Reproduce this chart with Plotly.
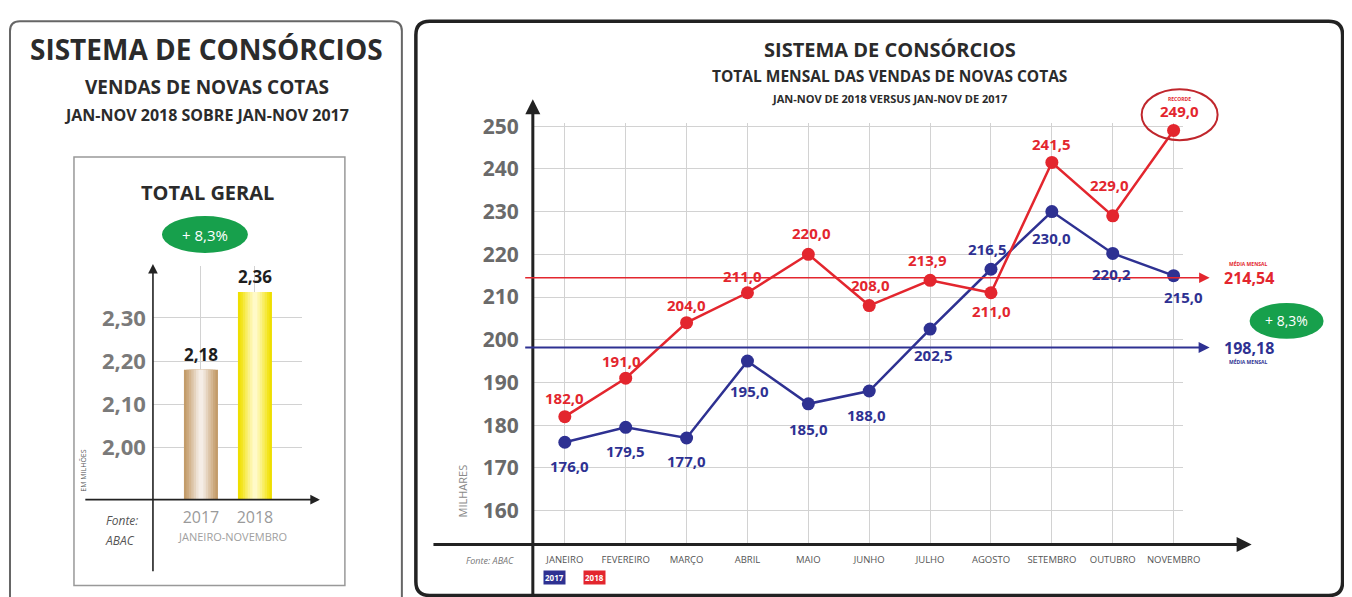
import plotly.graph_objects as go

# screen placement measured from earlier renders: the page shows the figure
# shifted/scaled a little, so positions below are given in window pixels
W, H = 1352, 590
SX, SY, OX, OY = 0.987, 0.981, 8, 18.7

# ---- dados ----
anos = ["2017", "2018"]
total_geral = [2.18, 2.36]
bar_ticks = [2.00, 2.10, 2.20, 2.30]

meses = ["JANEIRO", "FEVEREIRO", "MARÇO", "ABRIL", "MAIO", "JUNHO",
         "JULHO", "AGOSTO", "SETEMBRO", "OUTUBRO", "NOVEMBRO"]
vendas_2017 = [176.0, 179.5, 177.0, 195.0, 185.0, 188.0, 202.5, 216.5, 230.0, 220.2, 215.0]
vendas_2018 = [182.0, 191.0, 204.0, 211.0, 220.0, 208.0, 213.9, 211.0, 241.5, 229.0, 249.0]
media_2017 = 198.18
media_2018 = 214.54
variacao = "+ 8,3%"
y_ticks = [160, 170, 180, 190, 200, 210, 220, 230, 240, 250]

# label offsets (px) for the point values
off_2018 = [(0, 19), (-4, 17), (0, 18), (-5, 17), (3, 21), (1, 21), (-3, 20), (1, -18), (0, 18), (-3, 31), (6, 19)]
off_2017 = [(5, -24), (0, -24), (0, -23), (2, -30), (0, -25), (-3, -24), (3, -26), (-3, 20), (0, -26), (-1, -21), (10, -21)]

AZUL = "#2e3192"
VERM = "#e3262e"
VERDE = "#17a04c"
FONT = "Open Sans"


def fx(p):
    return (p - OX) / SX / W


def fy(p):
    return 1 - (p - OY) / SY / H


def br(v, d=1):
    return f"{v:.{d}f}".replace(".", ",")


def rounded(x0, y0, x1, y1, r):
    rx, ry = r / W, r / H
    X0, X1, Y0, Y1 = fx(x0), fx(x1), fy(y0), fy(y1)
    return (f"M {X0+rx},{Y0} L {X1-rx},{Y0} Q {X1},{Y0} {X1},{Y0-ry} "
            f"L {X1},{Y1+ry} Q {X1},{Y1} {X1-rx},{Y1} L {X0+rx},{Y1} "
            f"Q {X0},{Y1} {X0},{Y1+ry} L {X0},{Y0-ry} Q {X0},{Y0} {X0+rx},{Y0} Z")


fig = go.Figure()

# ---- left: total geral bars (layered for a soft gradient) ----
layers_w = [0.63, 0.54, 0.45, 0.36, 0.27, 0.18, 0.09]
tan = ["#c39c6a", "#cba87c", "#d4b691", "#dcc4a7", "#e5d3be", "#eee2d5", "#f5ede6"]
yel = ["#efdf00", "#f3e41c", "#f6e93f", "#f9ee63", "#fbf288", "#fdf6aa", "#fffac8"]
for w, c1, c2 in zip(layers_w, tan, yel):
    fig.add_trace(go.Bar(x=[0, 1], y=total_geral, width=w, marker=dict(color=[c1, c2], line=dict(width=0)),
                         xaxis="x", yaxis="y", hoverinfo="skip", showlegend=False))

# ---- right: monthly lines ----
xi = list(range(len(meses)))
fig.add_trace(go.Scatter(x=xi, y=vendas_2017, mode="lines+markers", xaxis="x2", yaxis="y2",
                         line=dict(color=AZUL, width=2.5), marker=dict(size=13, color=AZUL),
                         name="2017", showlegend=False))
fig.add_trace(go.Scatter(x=xi, y=vendas_2018, mode="lines+markers", xaxis="x2", yaxis="y2",
                         line=dict(color=VERM, width=2.5), marker=dict(size=13, color=VERM),
                         name="2018", showlegend=False))

ann = []


def txt(x, y, s, size, color="#2b2b2b", bold=True, **kw):
    d = dict(x=fx(x), y=fy(y), xref="paper", yref="paper", text=f"<b>{s}</b>" if bold else s,
             xanchor="center", yanchor="middle", showarrow=False,
             font=dict(family=FONT, size=size, color=color))
    d.update(kw)
    ann.append(d)


def arrow(xh, yh, xt, yt, color="#222", width=3, size=1.0):
    ann.append(dict(x=fx(xh), y=fy(yh), xref="paper", yref="paper", ax=(xt - xh) / SX, ay=(yt - yh) / SY,
                    axref="pixel", ayref="pixel", text="", showarrow=True, arrowhead=2,
                    arrowsize=size, arrowwidth=width, arrowcolor=color, standoff=0))


# left panel texts
txt(207, 48, "SISTEMA DE CONSÓRCIOS", 28)
txt(207, 86, "VENDAS DE NOVAS COTAS", 19)
txt(207, 114, "JAN-NOV 2018 SOBRE JAN-NOV 2017", 16)
txt(208, 191, "TOTAL GERAL", 20)
txt(205, 234, variacao, 15, color="white", bold=False)
for i, v in enumerate(total_geral):
    ann.append(dict(x=i, y=v, xref="x", yref="y", text=f"<b>{br(v, 2)}</b>", showarrow=False,
                    yanchor="bottom", yshift=2, font=dict(family=FONT, size=17, color="#1e1e1e")))
txt(233, 536, "JANEIRO-NOVEMBRO", 11, color="#a0a0a0", bold=False)
txt(122, 520, "<i>Fonte:</i>", 12, color="#555", bold=False)
txt(120, 540, "<i>ABAC</i>", 12, color="#555", bold=False)
txt(84, 470, "EM MILHÕES", 7, color="#555", bold=False, textangle=-90)
arrow(153, 263, 153, 566, width=1.6, size=1.2)
arrow(320, 499, 87, 499, width=1.6, size=1.2)

# right panel texts
txt(890, 48, "SISTEMA DE CONSÓRCIOS", 20)
txt(890, 75, "TOTAL MENSAL DAS VENDAS DE NOVAS COTAS", 15.5)
txt(890, 97, "JAN-NOV DE 2018 VERSUS JAN-NOV DE 2017", 11)
txt(463, 490, "MILHARES", 11, color="#8a8a8a", bold=False, textangle=-90)
txt(490, 560, "<i>Fonte: ABAC</i>", 9, color="#777", bold=False)
txt(555, 577, "2017", 8, color="white", bgcolor=AZUL, borderpad=1)
txt(595, 577, "2018", 8, color="white", bgcolor=VERM, borderpad=1)
arrow(533, 98, 533, 586, width=3, size=1.0)
arrow(1252, 544, 443, 544, width=3, size=1.0)

# mean lines
for m, c, w in [(media_2018, VERM, 1.5), (media_2017, AZUL, 2)]:
    ann.append(dict(x=fx(1210), y=m, xref="paper", yref="y2", ax=(533 - 1210) / SX, ay=0, axref="pixel",
                    ayref="pixel", text="", showarrow=True, arrowhead=2, arrowsize=1.4 if w < 2 else 1.1,
                    arrowwidth=w, arrowcolor=c, standoff=0))
ann.append(dict(x=fx(1222), y=media_2018, xref="paper", yref="y2", text=f"<b>{br(media_2018, 2)}</b>",
                showarrow=False, xanchor="left", font=dict(family=FONT, size=16, color=VERM)))
ann.append(dict(x=fx(1248), y=media_2018, xref="paper", yref="y2", yshift=14, text="<b>MÉDIA MENSAL</b>",
                showarrow=False, xanchor="center", font=dict(family=FONT, size=5, color=VERM)))
ann.append(dict(x=fx(1222), y=media_2017, xref="paper", yref="y2", text=f"<b>{br(media_2017, 2)}</b>",
                showarrow=False, xanchor="left", font=dict(family=FONT, size=16, color=AZUL)))
ann.append(dict(x=fx(1248), y=media_2017, xref="paper", yref="y2", yshift=-14, text="<b>MÉDIA MENSAL</b>",
                showarrow=False, xanchor="center", font=dict(family=FONT, size=5, color=AZUL)))
txt(1287, 320, variacao, 14, color="white", bold=False)

# point labels
for vals, offs, c in [(vendas_2017, off_2017, AZUL), (vendas_2018, off_2018, VERM)]:
    for i, (v, (dx, dy)) in enumerate(zip(vals, offs)):
        ann.append(dict(x=i, y=v, xref="x2", yref="y2", text=f"<b>{br(v)}</b>", showarrow=False,
                        xshift=dx, yshift=dy, font=dict(family=FONT, size=15, color=c)))
ann.append(dict(x=10, y=vendas_2018[10], xref="x2", yref="y2", text="<b>RECORDE</b>", showarrow=False,
                xshift=6, yshift=31, font=dict(family=FONT, size=5, color=VERM)))

shapes = [
    dict(type="path", path=rounded(10, 20, 402, 610, 10), xref="paper", yref="paper",
         line=dict(color="#666", width=2)),
    dict(type="rect", x0=fx(74), x1=fx(345), y0=fy(156), y1=fy(585), xref="paper", yref="paper",
         line=dict(color="#999", width=1.5)),
    dict(type="path", path=rounded(416, 20, 1343, 595, 14), xref="paper", yref="paper",
         line=dict(color="#222", width=3.5)),
    dict(type="circle", x0=fx(162), x1=fx(248), y0=fy(215), y1=fy(252), xref="paper", yref="paper",
         fillcolor=VERDE, line=dict(width=0), layer="below"),
    dict(type="circle", x0=fx(1250), x1=fx(1324), y0=fy(302), y1=fy(338), xref="paper", yref="paper",
         fillcolor=VERDE, line=dict(width=0), layer="below"),
    dict(type="circle", x0=fx(1142), x1=fx(1218), y0=fy(88), y1=fy(139), xref="paper", yref="paper",
         line=dict(color="#c0262c", width=2)),
]

grid = "#d2d2d2"
fig.update_layout(
    width=W, height=H, margin=dict(l=0, r=0, t=0, b=0),
    paper_bgcolor="white", plot_bgcolor="rgba(0,0,0,0)",
    separators=",.", barmode="overlay", showlegend=False,
    font=dict(family=FONT),
    xaxis=dict(domain=[fx(153), fx(302)], range=[-0.889, 1.87], tickvals=[0, 1], ticktext=anos,
               showgrid=True, gridcolor=grid, zeroline=False, showline=False, ticks="",
               tickfont=dict(family=FONT, size=16, color="#9a9a9a"), ticklabelstandoff=6, fixedrange=True),
    yaxis=dict(domain=[fy(499), fy(265)], range=[1.88, 2.42], tickvals=bar_ticks, tickformat=".2f",
               showgrid=True, gridcolor=grid, zeroline=False, showline=False, ticks="",
               tickfont=dict(family=FONT, size=22, color="#7a7a7a", weight="bold"), ticklabelstandoff=6),
    xaxis2=dict(domain=[fx(533), fx(1183)], range=[-0.5255, 10.148], tickvals=xi, ticktext=meses,
                showgrid=True, gridcolor=grid, zeroline=False, showline=False, ticks="", anchor="y2",
                tickfont=dict(family=FONT, size=9.5, color="#555"), ticklabelstandoff=8),
    yaxis2=dict(domain=[fy(544), fy(122)], range=[152.05, 250.7], tickvals=y_ticks,
                showgrid=True, gridcolor=grid, zeroline=False, showline=False, ticks="", anchor="x2",
                tickfont=dict(family=FONT, size=21, color="#6a6a6a", weight="bold"), ticklabelstandoff=13),
    annotations=ann, shapes=shapes,
)

fig.write_html("out.html")
